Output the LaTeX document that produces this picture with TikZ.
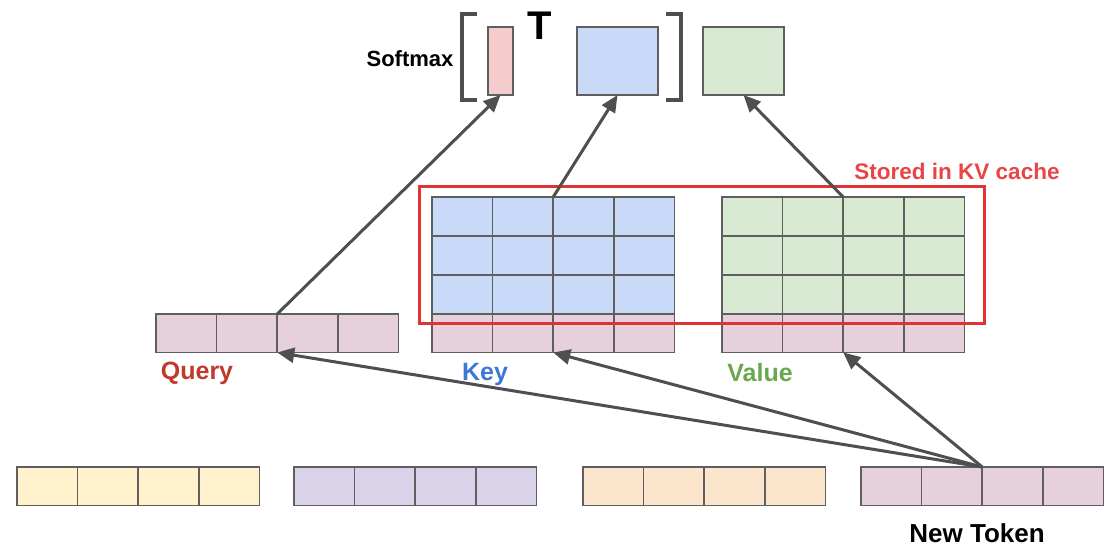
\documentclass[tikz,border=0pt]{standalone}
\usepackage{fontspec}
\setmainfont{Liberation Sans}
\usetikzlibrary{arrows.meta}
\definecolor{qpink}{HTML}{E6D0DC}
\definecolor{bluec}{HTML}{C9DAF8}
\definecolor{greenc}{HTML}{D9EAD3}
\definecolor{yellowc}{HTML}{FFF2CC}
\definecolor{purplec}{HTML}{D9D2E9}
\definecolor{orangec}{HTML}{FCE5CD}
\definecolor{smpink}{HTML}{F4CCCC}
\definecolor{gridc}{HTML}{5F5F5F}
\definecolor{arrc}{HTML}{4F4F4F}
\definecolor{kvred}{HTML}{E03434}
\definecolor{qtext}{HTML}{C0392B}
\definecolor{ktext}{HTML}{3C78D8}
\definecolor{vtext}{HTML}{6AA84F}
\definecolor{stext}{HTML}{E84545}
\begin{document}
\begin{tikzpicture}[x=1pt,y=-1pt,
  cell/.style={draw=gridc, line width=1.5pt, minimum width=60.6pt, minimum height=38.5pt, inner sep=0pt, outer sep=0pt, anchor=north west},
  topbox/.style={draw=gridc, line width=1.6pt, inner sep=0pt, outer sep=0pt, anchor=north west},
  arr/.style={draw=arrc, line width=3pt, -{Triangle[length=17pt,width=15pt]}},
  brack/.style={draw=arrc, line width=3.5pt},
  lbl/.style={font=\bfseries\fontsize{25}{25}\selectfont, inner sep=0pt}
]
\useasboundingbox (0,0) rectangle (1110,548);

% Query row
\foreach \i in {0,...,3}
  \node[cell, fill=qpink] (q\i) at ({156+60.6*\i},314) {};
% Key grid
\foreach \r in {0,1,2}
  \foreach \i in {0,...,3}
    \node[cell, fill=bluec, minimum height=39pt] (k\r\i) at ({432+60.6*\i},{197+39*\r}) {};
\foreach \i in {0,...,3}
  \node[cell, fill=qpink] (k3\i) at ({432+60.6*\i},314) {};
% Value grid
\foreach \r in {0,1,2}
  \foreach \i in {0,...,3}
    \node[cell, fill=greenc, minimum height=39pt] (v\r\i) at ({722+60.6*\i},{197+39*\r}) {};
\foreach \i in {0,...,3}
  \node[cell, fill=qpink] (v3\i) at ({722+60.6*\i},314) {};

% Bottom rows
\foreach \i in {0,...,3} {
  \node[cell, fill=yellowc] (y\i) at ({17+60.6*\i},467) {};
  \node[cell, fill=purplec] (p\i) at ({294+60.6*\i},467) {};
  \node[cell, fill=orangec] (o\i) at ({583+60.6*\i},467) {};
  \node[cell, fill=qpink] (n\i) at ({861+60.6*\i},467) {};
}

% KV cache box
\node[draw=kvred, line width=3pt, minimum width=565pt, minimum height=137pt, inner sep=0pt, anchor=north west] (kv) at (418,185) {};
\node[font=\bfseries\fontsize{22.5}{22.5}\selectfont, text=stext, inner sep=0pt] (kvl) at (957,171) {Stored in KV cache};

% Top boxes
\node[topbox, fill=smpink, minimum width=25pt, minimum height=68pt] (sm) at (488,27) {};
\node[topbox, fill=bluec, minimum width=81pt, minimum height=68pt] (kt) at (577,27) {};
\node[topbox, fill=greenc, minimum width=81pt, minimum height=68pt] (vt) at (703,27) {};

% Brackets
\draw[brack] (477,14) -- (462,14) -- (462,100) -- (477,100);
\draw[brack] (666,14) -- (681,14) -- (681,100) -- (666,100);

\node[font=\bfseries\fontsize{40}{40}\selectfont, inner sep=0pt] (T) at (540,26) {T};
\node[font=\bfseries\fontsize{22}{22}\selectfont, inner sep=0pt] (smx) at (410,59) {Softmax};

% Labels
\node[lbl, text=qtext] (ql) at (197,373) {Query};
\node[lbl, text=ktext] (kl) at (485,374) {Key};
\node[lbl, text=vtext] (vl) at (760,373) {Value};
\node[font=\bfseries\fontsize{26}{26}\selectfont, inner sep=0pt] (nt) at (977,533) {New Token};

% Arrows upward
\draw[arr] (q1.north east) -- (sm.south);
\draw[arr] (k01.north east) -- (kt.south);
\draw[arr] (v01.north east) -- (vt.south);

% Arrows from new token
\draw[arr] (n1.north east) -- (q1.south east);
\draw[arr] (n1.north east) -- (k31.south east);
\draw[arr] (n1.north east) -- (v31.south east);
\end{tikzpicture}
\end{document}
